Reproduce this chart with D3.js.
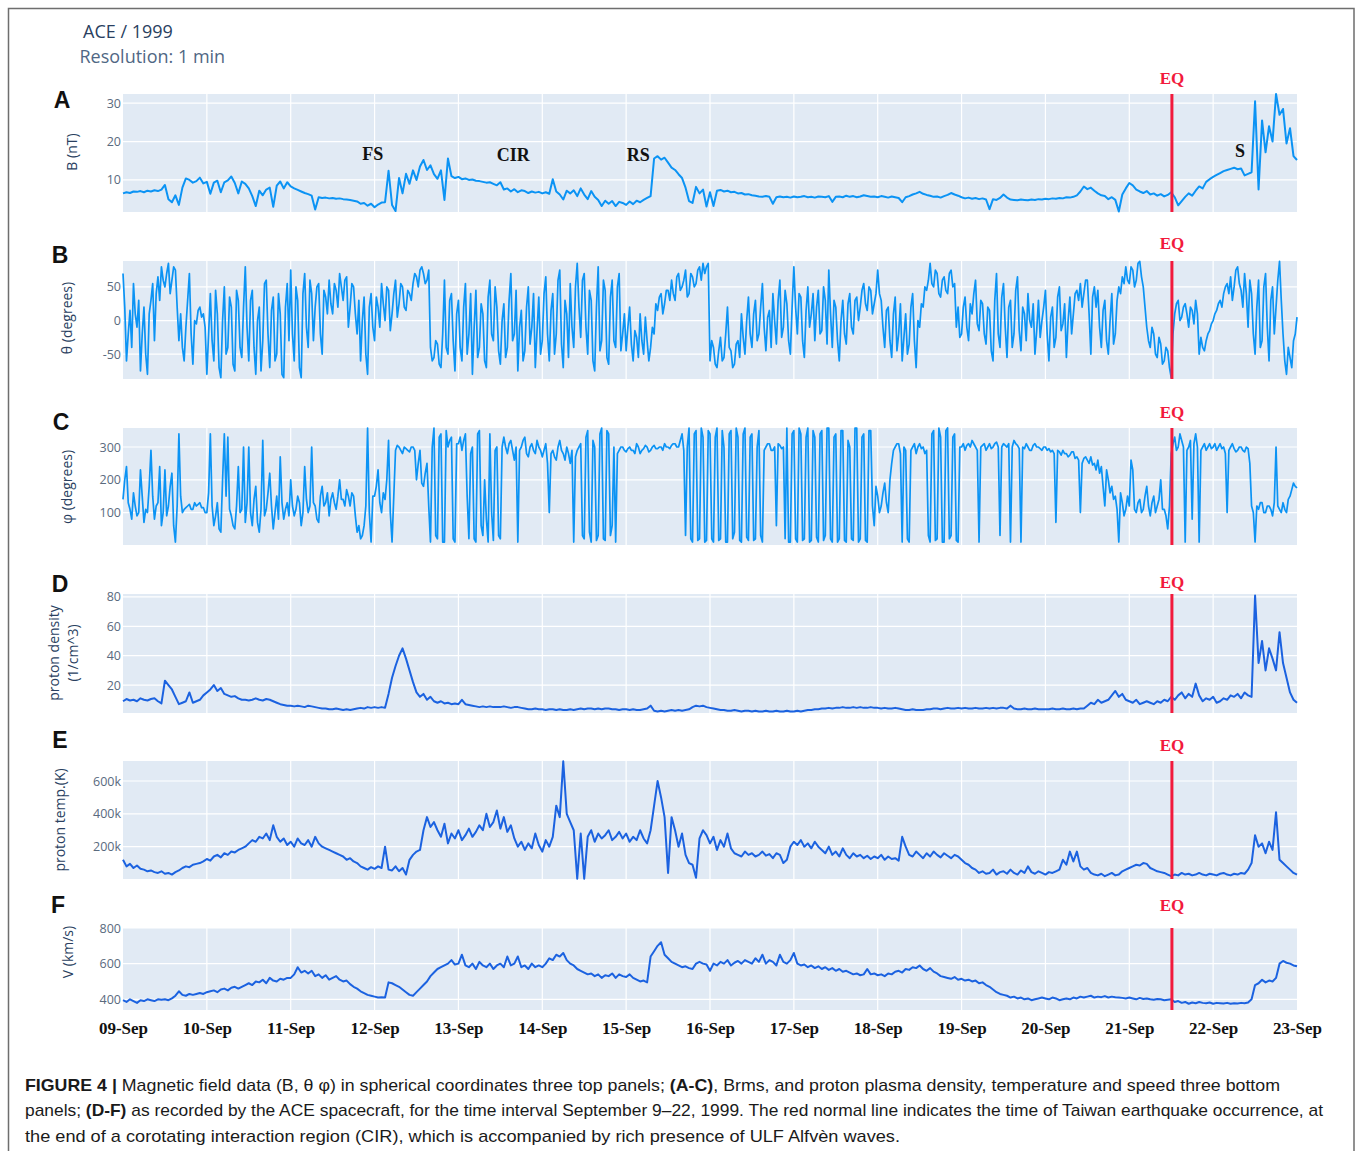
<!DOCTYPE html>
<html><head><meta charset="utf-8">
<script src="https://cdn.jsdelivr.net/npm/d3@7"></script>
<style>body{margin:0;background:#fff}svg{display:block}</style>
</head><body>
<svg id="chart" width="1355" height="1151"></svg>
<script>
// ---------- DATA (samples from 09-Sep-1999 00:00 UT) ----------
const startTime = Date.UTC(1999, 8, 9);
const endTime = Date.UTC(1999, 8, 23);
const eqTime = Date.UTC(1999, 8, 21, 12, 12);
const dayLabels = ["09-Sep","10-Sep","11-Sep","12-Sep","13-Sep","14-Sep","15-Sep","16-Sep","17-Sep","18-Sep","19-Sep","20-Sep","21-Sep","22-Sep","23-Sep"];

// hourly, nT
const bField = [
6.5,6.8,6.6,7.0,6.9,7.1,6.8,7.2,7.0,7.3,7.1,7.5,
8.7,5.0,4.2,6.0,3.5,8.0,10.4,10.0,9.3,9.7,10.6,9.1,
9.5,6.4,9.3,9.8,6.8,9.4,9.9,10.9,9.2,6.5,9.6,9.0,
7.8,5.8,3.2,7.2,6.0,7.5,8.0,3.0,8.5,9.6,7.8,9.4,
8.3,7.8,7.4,7.0,6.6,6.3,5.9,2.3,5.5,5.3,5.4,5.2,
5.3,5.1,5.2,5.0,4.9,4.8,4.6,4.4,3.8,4.0,3.3,3.8,
2.9,3.6,4.1,4.2,12.4,3.5,1.9,10.5,6.5,11.6,9.0,12.5,
10.0,13.5,15.2,12.6,13.8,11.5,10.3,12.5,4.8,15.6,11.0,10.5,
10.8,10.2,10.4,10.0,10.1,9.8,9.7,9.5,9.3,9.4,9.0,8.6,
9.4,7.5,7.8,7.0,7.6,6.8,7.3,7.1,6.6,7.0,6.7,6.9,
6.5,6.8,6.4,10.2,7.0,6.2,4.9,7.2,6.5,7.3,5.8,7.8,
6.2,5.0,7.1,5.6,4.8,3.2,4.6,3.8,4.5,3.2,4.3,4.0,
3.5,4.4,3.7,4.6,4.2,4.8,5.3,5.8,15.6,16.2,15.3,15.8,
14.5,13.2,12.6,11.5,10.5,8.0,4.5,4.0,8.2,6.5,7.5,3.1,
6.8,3.2,7.2,7.4,7.0,7.2,6.8,6.9,6.5,6.6,6.2,6.3,
6.0,5.9,5.7,5.6,5.8,5.6,3.8,5.5,5.7,5.5,5.6,5.4,
5.7,5.5,5.6,5.8,5.5,5.6,5.4,5.7,5.6,5.5,5.8,4.3,
5.6,5.7,5.5,5.9,5.6,5.8,5.5,5.7,6.0,5.8,5.6,5.7,
5.5,5.8,5.6,5.4,5.7,5.5,5.3,4.2,5.5,5.8,6.2,6.5,
6.9,6.4,6.1,5.9,5.6,5.7,5.4,5.8,6.1,6.6,6.2,5.9,
5.5,5.2,5.4,5.1,5.3,5.0,5.2,4.9,2.4,5.0,4.8,5.3,
6.2,5.4,4.9,4.8,4.7,4.9,4.8,4.7,4.9,4.8,5.0,4.9,
5.1,5.0,5.2,5.1,5.3,5.2,5.5,5.4,5.6,6.0,7.0,8.3,
7.6,8.0,7.2,6.5,6.0,5.8,5.0,5.5,4.8,1.8,6.2,7.8,
9.2,8.6,7.5,7.0,6.6,7.1,6.2,6.5,5.9,6.3,5.7,6.1,
6.8,5.5,3.4,4.5,5.6,6.5,5.9,7.2,8.3,7.8,9.5,10.2,
10.8,11.3,11.8,12.3,12.6,12.9,13.2,12.8,13.0,11.2,11.6,12.0,
30.5,7.5,25.5,17.2,24.0,20.0,32.4,27.0,28.5,19.5,23.5,16.2,
15.2];

// half-hourly, degrees
const thetaDeg = [
70,20,-60,-20,15,-40,55,10,-10,30,-75,-20,20,-50,-80,10,30,55,-30,40,65,30,80,60,
50,70,85,40,60,80,75,20,-30,10,-40,-60,-10,30,70,-20,-65,0,-5,15,20,5,10,-10,
-80,-20,40,-30,-60,45,10,-70,-85,0,50,-50,-40,35,20,-65,-75,45,30,-40,-55,20,80,-10,
-60,30,45,-40,-80,0,20,-75,-30,55,60,-20,-70,15,35,-60,-50,40,10,-80,-85,20,55,-30,
75,-20,-60,50,30,-70,-85,40,70,-10,-40,60,40,-30,20,50,55,-20,-50,45,35,10,60,25,
10,55,45,20,70,50,30,60,65,-10,20,55,50,10,-20,30,-60,0,35,-50,-80,20,40,-10,
-30,35,20,-10,55,25,0,50,45,-15,10,40,60,5,25,55,50,20,15,45,40,30,55,70,
65,50,75,80,70,55,60,75,-40,-60,-55,-30,-35,-65,-70,-20,60,-40,-50,30,40,-30,-75,10,
30,-40,-60,20,55,-50,-20,40,-80,-10,45,-55,-40,25,10,-60,-70,35,60,-20,-30,50,20,-45,
-65,0,25,-55,-40,30,70,-30,-20,45,-75,-10,15,-60,-45,20,50,-35,-10,40,-70,-15,35,-50,
-30,40,65,-20,-60,15,40,-50,-20,60,75,-35,-70,30,10,-55,55,-10,-40,50,85,20,-25,60,
70,-10,-50,45,30,-60,-75,20,80,-45,-30,60,45,-55,-65,35,60,-30,-40,50,70,-45,-20,10,
-45,-10,20,-35,-60,-15,-25,-55,10,-30,-50,5,-30,-60,-40,-10,-20,25,15,35,40,10,25,45,
45,30,60,40,30,65,70,45,50,60,75,35,40,70,65,50,55,75,80,60,85,70,80,85,
-60,-30,-40,-65,-70,-45,-25,-60,-55,-20,20,-40,-45,-70,-65,-35,-30,-55,10,-25,-50,0,35,-20,
-40,10,30,-30,-20,20,55,-10,-45,5,15,-40,40,0,-35,30,60,-25,-10,45,25,-30,-50,20,
80,20,-20,40,35,-30,-55,15,50,-10,10,40,-30,20,45,-20,-15,50,30,-35,75,10,-40,30,
20,-30,-60,0,30,-20,-35,25,40,-10,-20,30,35,0,20,45,55,25,15,50,45,10,25,40,
75,40,30,-10,-40,15,20,-30,-55,10,35,-45,-20,25,-60,-25,10,-50,-35,20,40,-30,-70,0,
-10,25,20,50,45,60,85,55,50,75,70,40,35,60,65,45,40,70,75,50,55,-10,20,-25,
-20,20,35,-10,-30,25,10,40,60,-5,-15,30,25,-20,-35,20,15,-45,-60,30,70,-20,-40,35,
55,-10,-55,20,30,-40,-20,45,65,-15,-45,20,10,-30,40,0,-10,25,-50,-15,30,-25,0,20,
45,-20,-60,5,20,-40,-25,35,50,-15,-5,25,-55,0,35,-20,10,40,45,30,55,20,40,60,
60,10,-50,35,50,20,45,-10,-40,15,30,-30,-50,0,40,-35,-20,30,50,40,65,55,80,60,
55,80,75,50,60,85,88,65,50,20,-10,-30,-40,-10,-20,-50,-55,-25,-35,-65,-60,-40,-45,-70,
-85,-20,10,25,30,0,5,20,25,10,-10,20,15,-5,30,10,-50,-25,-40,-45,-30,-20,-15,-5,
0,10,15,25,30,20,40,50,55,40,65,30,50,75,80,55,45,20,70,40,-10,60,40,-20,
-50,20,60,-40,-30,50,70,-10,-60,30,50,-20,20,60,88,30,-20,-60,-80,-40,-55,-70,-30,-20,
5];

// half-hourly, degrees
const phiDeg = [
140,200,240,130,110,80,160,120,90,100,230,150,70,110,100,180,290,150,80,120,130,240,60,100,
230,90,120,180,220,60,10,120,340,150,100,110,115,120,125,110,110,130,120,125,130,115,115,100,
100,160,340,120,60,90,130,50,40,200,340,150,330,110,90,60,50,120,240,100,110,300,70,130,
300,100,60,140,180,70,40,110,320,90,110,160,220,120,50,100,150,80,270,130,80,110,130,90,
200,120,90,110,150,130,60,100,240,140,100,120,300,130,120,80,70,150,180,120,130,160,90,140,
160,130,110,150,200,140,140,120,170,150,120,160,150,90,40,60,20,30,60,120,358,100,10,150,
150,180,230,130,100,160,140,200,320,100,10,150,290,305,300,290,280,300,295,290,285,300,300,290,
200,250,290,190,180,220,250,120,10,300,358,30,20,330,340,10,10,350,300,320,330,20,10,310,
310,330,290,320,340,150,20,280,300,20,10,340,350,60,30,200,80,10,340,100,15,290,300,30,
20,300,330,300,280,310,320,290,260,300,10,290,300,320,330,280,270,300,310,290,280,320,300,290,
270,290,310,250,100,280,290,270,260,300,320,290,280,260,300,280,250,290,10,270,290,300,310,30,
20,330,350,40,10,320,300,15,30,340,358,20,15,350,340,30,60,300,10,280,290,300,300,290,
285,295,300,290,290,280,310,300,280,290,295,305,300,285,290,300,305,295,295,300,300,290,310,300,
300,295,305,310,310,300,300,320,340,290,30,300,358,20,10,340,350,15,20,358,330,10,15,350,
340,20,10,330,358,15,20,350,300,10,10,340,350,20,40,358,330,15,10,340,358,25,15,330,
340,15,20,300,350,30,10,290,300,310,310,290,290,300,60,310,305,295,300,20,358,10,10,340,
350,20,10,358,340,15,20,330,358,10,15,350,330,25,10,340,350,15,30,358,358,20,10,330,
340,10,20,350,350,15,10,320,300,20,15,358,358,10,20,330,340,15,10,350,350,120,60,180,
150,100,120,160,190,130,100,200,250,290,300,310,310,280,10,300,290,20,10,290,300,310,280,300,
310,295,300,280,290,30,10,340,350,15,20,358,330,10,10,350,358,20,30,330,340,15,10,300,
300,310,290,305,310,300,320,310,300,290,10,300,305,310,290,300,310,295,300,310,315,300,30,300,
310,305,300,310,10,300,320,310,305,295,10,300,295,310,300,290,290,305,310,300,300,295,290,300,
300,290,295,285,290,280,70,290,285,275,290,280,280,270,275,285,285,265,270,260,100,250,265,270,
260,250,270,245,250,230,260,220,240,180,120,230,200,160,180,140,150,110,10,160,130,90,110,150,
120,260,230,110,100,130,140,100,110,150,180,120,90,130,150,100,120,140,200,110,110,90,50,120,
280,310,330,290,300,340,320,300,10,290,300,320,80,310,340,300,10,290,300,310,290,300,310,295,
300,310,290,300,310,295,300,280,100,290,300,310,295,285,290,300,300,290,285,300,295,250,120,100,
10,120,110,130,130,100,100,120,120,110,90,130,300,120,110,100,130,110,100,140,150,170,190,180,
175];

// hourly, 1/cm^3
const protonDensity = [
9,10.5,9.5,10,9,11,10,9.5,10.5,11,9,7.5,
23,20,17,12,7,8,9,15,8,9,10,13,
15,17,20,16,18,14,13,12,12.5,11,10,10,
9.5,10,11,10,9.5,10.5,10,9,8,7,6.5,6,
6,5.5,6,5.5,5,6,5.5,5,4.5,4,4,3.5,
3.5,4,3.5,3,3.5,3,3.5,4,4.5,4,5,4.5,
5,4.5,5,4.5,14,25,33,40,45,38,30,22,
15,12,14,10,12,9,8,9,7.5,8,7,7.5,
7,10,7,6.5,6,5.5,5,5.5,5,5.5,5,5,
5,5.5,5,4.5,5,5,4.5,4,3.5,3.5,4,3.5,
3.5,3,3.5,3.5,3,3.5,3,3,3.5,3,3.5,4,
3.5,4,4,3.5,4,3.5,4,4,3.5,3.5,3,3.5,
3.5,3,3.5,3,3,3.5,4,6,2.5,2,2.5,2,
2.5,3,2.5,3,2.5,3,3.5,5,6,5.5,6,5,
4.5,4,3.5,3,3,2.5,2.5,3,2.5,2,2.5,2.5,
2,2.5,2,2,2.5,2,2,2.5,2,2,2.5,2,
2,2.5,2,2.5,3,3,3.5,3.5,4,4,4.5,4,
4.5,4.5,5,4.5,4.5,5,4.5,5,4.5,4.5,5,4.5,
4.5,4,4.5,4,4,4.5,4,3.5,3,3,3.5,3,
3,3,3.5,3.5,4,4,3.5,4,4.5,4,4,4.5,
4,4.5,4,4,4.5,4,4,4.5,4,4.5,4,4.5,
4.5,4,6,4,3.5,3.5,4,3.5,3.5,4,3.5,3.5,
3.5,3.5,4,3.5,3.5,4,3.5,3.5,4,3.5,4,4,
6,8,7,10,8,9,10,13,16,12,14,10,
9,8,10,7,8,9,8,7,9,8,10,9,
12,10,13,15,11,14,12,21,13,9,11,10,
12,8,9,11,10,13,12,14,11,15,13,12,
81,35,50,30,45,38,30,56,35,25,15,10,
8];

// hourly, proton temperature in thousands of kelvin
const protonTempK = [
120,80,95,70,85,65,60,50,55,45,40,50,
35,40,30,45,55,70,80,75,90,95,100,110,
125,115,140,150,135,160,150,170,165,180,190,200,
220,240,230,260,250,280,240,330,260,230,250,210,
230,200,250,220,210,240,200,260,220,200,190,180,
170,160,150,140,120,130,110,100,80,70,60,75,
65,80,70,200,60,55,80,50,70,30,120,150,
170,180,300,380,320,350,300,260,340,220,280,250,
300,240,270,310,260,290,330,300,400,320,350,420,
310,380,290,330,250,200,230,180,220,190,280,210,
170,240,200,260,450,380,720,400,350,300,5,280,
5,260,300,230,280,250,270,300,240,260,290,250,
280,230,260,240,300,250,220,300,450,600,500,380,
40,380,300,200,280,150,100,90,10,250,300,270,
220,260,180,240,200,280,190,160,150,140,170,150,
160,140,150,170,145,155,130,160,150,100,120,200,
230,210,240,200,220,190,230,200,180,160,200,150,
170,140,190,150,130,160,140,150,130,145,125,140,
130,150,120,140,125,130,115,260,200,150,140,170,
150,130,160,140,170,150,135,160,145,130,150,140,
120,100,90,70,60,40,50,35,40,60,30,45,
50,35,60,40,30,55,40,80,45,35,50,40,
30,45,40,50,60,120,90,170,110,170,80,60,
70,40,30,25,35,20,30,40,25,30,50,60,
70,80,90,85,100,95,70,60,50,45,40,30,
20,30,25,40,30,35,25,30,40,30,25,35,
30,25,35,40,30,25,35,30,40,35,60,100,
270,200,220,160,230,180,410,120,100,80,60,40,
30];

// hourly, km/s
const windSpeed = [
395,385,400,390,380,395,390,400,395,390,400,398,
400,395,405,420,445,425,420,430,425,430,435,430,
440,445,450,440,455,460,450,465,470,460,470,480,
490,480,500,495,510,490,520,505,500,515,510,520,
520,540,580,550,560,545,560,530,540,520,535,510,
520,530,510,500,505,485,470,460,445,435,425,420,
415,410,412,410,495,490,480,470,455,440,425,420,
440,460,480,500,530,550,570,580,590,600,620,595,
600,650,590,580,600,570,610,590,580,600,570,590,
600,580,640,590,600,640,580,590,570,600,580,590,
580,600,630,620,650,640,660,620,600,590,570,560,
550,540,545,530,540,520,535,530,545,520,540,530,
525,540,520,510,500,505,495,640,670,700,720,650,
630,610,600,590,580,585,575,570,600,610,600,595,
560,600,590,610,600,620,590,605,615,600,620,610,
600,630,610,650,600,620,610,590,650,610,600,620,
660,600,590,595,580,590,575,585,570,580,565,575,
560,570,555,560,550,540,545,535,540,570,540,545,
535,540,530,545,540,555,560,550,570,565,580,575,
590,570,560,575,555,545,530,525,520,515,525,510,
515,505,510,500,505,490,495,480,470,455,440,430,
425,420,410,415,405,410,400,405,395,400,405,410,
405,400,410,405,395,400,405,400,410,405,415,410,
415,420,410,415,412,418,410,415,412,410,408,405,
410,405,400,408,402,405,400,398,402,400,395,398,
400,385,390,380,385,375,382,378,385,380,378,382,
375,380,378,376,380,375,378,376,380,378,382,400,
480,490,510,495,505,500,520,600,615,605,600,590,
585];

const bTicks = [10, 20, 30];
const thetaTicks = [-50, 0, 50];
const phiTicks = [100, 200, 300];
const densityTicks = [20, 40, 60, 80];
const tempTicks = [200, 400, 600];
const speedTicks = [400, 600, 800];

const annotations = [
  {label: "FS", time: Date.UTC(1999, 8, 11, 23, 30), value: 16.8},
  {label: "CIR", time: Date.UTC(1999, 8, 13, 15, 40), value: 16.6},
  {label: "RS", time: Date.UTC(1999, 8, 15, 3, 30), value: 16.6},
  {label: "S", time: Date.UTC(1999, 8, 22, 7, 40), value: 17.6}
];

// ---------- LAYOUT ----------
[[bField, 337], [thetaDeg, 673], [phiDeg, 673], [protonDensity, 337], [protonTempK, 337], [windSpeed, 337]].forEach(([a, n], i) => {
  if (a.length !== n) throw new Error("series " + i + " has length " + a.length);
});

const svg = d3.select("#chart");
const plotLeft = 123, plotRight = 1297;
const x = d3.scaleUtc().domain([startTime, endTime]).range([plotLeft, plotRight]);
const hour = 3600e3;
const colA = "#0b93f4", colD = "#1b62e0";

const panels = [
  {letter: "A", data: bField, step: 1, top: 94, bottom: 212, domain: [1.65, 32.4], ticks: bTicks, fmt: d => d, color: colA, sw: 2,
   titles: ["B (nT)"], titleX: [71], titleY: 152, letterY: 100, letterX: 62, eqY: 78},
  {letter: "B", data: thetaDeg, step: 0.5, top: 261, bottom: 379, domain: [-87, 88.6], ticks: thetaTicks, fmt: d => d, color: colA, sw: 1.7,
   titles: ["θ (degrees)"], titleX: [66], titleY: 318, letterY: 255, letterX: 60, eqY: 243},
  {letter: "C", data: phiDeg, step: 0.5, top: 428, bottom: 545, domain: [1, 358], ticks: phiTicks, fmt: d => d, color: colA, sw: 1.7,
   titles: ["φ (degrees)"], titleX: [66], titleY: 487, letterY: 422, letterX: 61, eqY: 411.5},
  {letter: "D", data: protonDensity, step: 1, top: 594, bottom: 713, domain: [1, 82], ticks: densityTicks, fmt: d => d, color: colD, sw: 2,
   titles: ["proton density", "(1/cm^3)"], titleX: [53, 72], titleY: 653, letterY: 584, letterX: 60, eqY: 581.5},
  {letter: "E", data: protonTempK, step: 1, top: 761, bottom: 879, domain: [3, 722], ticks: tempTicks, fmt: d => d + "k", color: colD, sw: 2,
   titles: ["proton temp.(K)"], titleX: [59], titleY: 820, letterY: 740, letterX: 60, eqY: 745},
  {letter: "F", data: windSpeed, step: 1, top: 928, bottom: 1010, domain: [340, 800], ticks: speedTicks, fmt: d => d, color: colD, sw: 2,
   titles: ["V (km/s)"], titleX: [67], titleY: 952, letterY: 905, letterX: 58, eqY: 905}
];

// frame
svg.append("path").attr("d", "M8.5,1151 V8.5 H1354 V1151")
  .attr("fill", "none").attr("stroke", "#6e6e6e").attr("stroke-width", 1.5);

// header
svg.append("text").attr("x", 83).attr("y", 38).text("ACE / 1999")
  .attr("font-family", "Open Sans").attr("font-size", 18).attr("fill", "#2a3f5f");
svg.append("text").attr("x", 79.5).attr("y", 63).text("Resolution: 1 min")
  .attr("font-family", "Open Sans").attr("font-size", 18).attr("fill", "#506784");

const dayTimes = dayLabels.map((_, i) => startTime + i * 24 * hour);

panels.forEach(p => {
  const y = d3.scaleLinear().domain(p.domain).range([p.bottom, p.top]);
  const g = svg.append("g");
  g.append("rect").attr("x", plotLeft).attr("y", p.top).attr("width", plotRight - plotLeft)
    .attr("height", p.bottom - p.top).attr("fill", "#E1EAF4");
  g.selectAll(".vg").data(dayTimes.slice(1, -1)).join("line")
    .attr("x1", d => x(d)).attr("x2", d => x(d)).attr("y1", p.top).attr("y2", p.bottom)
    .attr("stroke", "#fff").attr("stroke-width", 1.2);
  g.selectAll(".hg").data(p.ticks).join("line")
    .attr("x1", plotLeft).attr("x2", plotRight).attr("y1", d => y(d)).attr("y2", d => y(d))
    .attr("stroke", "#fff").attr("stroke-width", 1.2);
  const ax = d3.axisLeft(y).tickValues(p.ticks).tickFormat(p.fmt).tickSize(0).tickPadding(2);
  const ag = g.append("g").attr("transform", `translate(${plotLeft},0)`).call(ax);
  ag.select(".domain").remove();
  ag.selectAll("text").attr("font-family", "Open Sans").attr("font-size", 12.5).attr("fill", "#5a6a7e");
  const line = d3.line()
    .x((d, i) => x(startTime + i * p.step * hour))
    .y(d => y(d));
  g.append("path").datum(p.data).attr("d", line).attr("fill", "none")
    .attr("stroke", p.color).attr("stroke-width", p.sw).attr("stroke-linejoin", "round");
  g.append("line").attr("x1", x(eqTime)).attr("x2", x(eqTime)).attr("y1", p.top).attr("y2", p.bottom)
    .attr("stroke", "#f21a3c").attr("stroke-width", 3);
  g.append("text").attr("x", x(eqTime)).attr("y", p.eqY + 6).attr("text-anchor", "middle")
    .attr("font-family", "Liberation Serif").attr("font-weight", "bold").attr("font-size", 17)
    .attr("fill", "#f21a3c").text("EQ");
  g.append("text").attr("x", p.letterX).attr("y", p.letterY + 8).attr("text-anchor", "middle")
    .attr("font-family", "Liberation Sans").attr("font-weight", "bold").attr("font-size", 23)
    .attr("fill", "#111").text(p.letter);
  p.titles.forEach((t, i) => {
    g.append("text").attr("transform", `translate(${p.titleX[i]},${p.titleY}) rotate(-90)`)
      .attr("text-anchor", "middle").attr("dominant-baseline", "central")
      .attr("font-family", "Open Sans").attr("font-size", 14).attr("fill", "#2a3f5f").text(t);
  });
  p.y = y;
});

// annotations on panel A
const yA = panels[0].y;
svg.append("g").selectAll("text").data(annotations).join("text")
  .attr("x", d => x(d.time)).attr("y", d => yA(d.value) + 6)
  .attr("text-anchor", "middle").attr("font-family", "Liberation Serif").attr("font-weight", "bold")
  .attr("font-size", 18).attr("fill", "#111").text(d => d.label);

// x axis
const xAxis = d3.axisBottom(x).tickValues(dayTimes).tickFormat((d, i) => dayLabels[i]).tickSize(0).tickPadding(12);
const xg = svg.append("g").attr("transform", "translate(0,1010)").call(xAxis);
xg.select(".domain").remove();
xg.selectAll("text").attr("font-family", "Liberation Serif").attr("font-weight", "bold")
  .attr("font-size", 17).attr("fill", "#111");

// caption
const caption = [
  {y: 1091, len: 1255, parts: [["FIGURE 4 |", true], [" Magnetic field data (B, θ φ) in spherical coordinates three top panels; ", false], ["(A-C)", true], [", Brms, and proton plasma density, temperature and speed three bottom", false]]},
  {y: 1116, len: 1298, parts: [["panels; ", false], ["(D-F)", true], [" as recorded by the ACE spacecraft, for the time interval September 9–22, 1999. The red normal line indicates the time of Taiwan earthquake occurrence, at", false]]},
  {y: 1142, len: 875, parts: [["the end of a corotating interaction region (CIR), which is accompanied by rich presence of ULF Alfvèn waves.", false]]}
];
caption.forEach(c => {
  const t = svg.append("text").attr("x", 25).attr("y", c.y)
    .attr("font-family", "Liberation Sans").attr("font-size", 17).attr("fill", "#1a1a1a")
    .attr("textLength", c.len).attr("lengthAdjust", "spacingAndGlyphs").attr("xml:space", "preserve");
  c.parts.forEach(([s, b]) => t.append("tspan").attr("font-weight", b ? "bold" : "normal").text(s));
});
</script>
</body></html>
